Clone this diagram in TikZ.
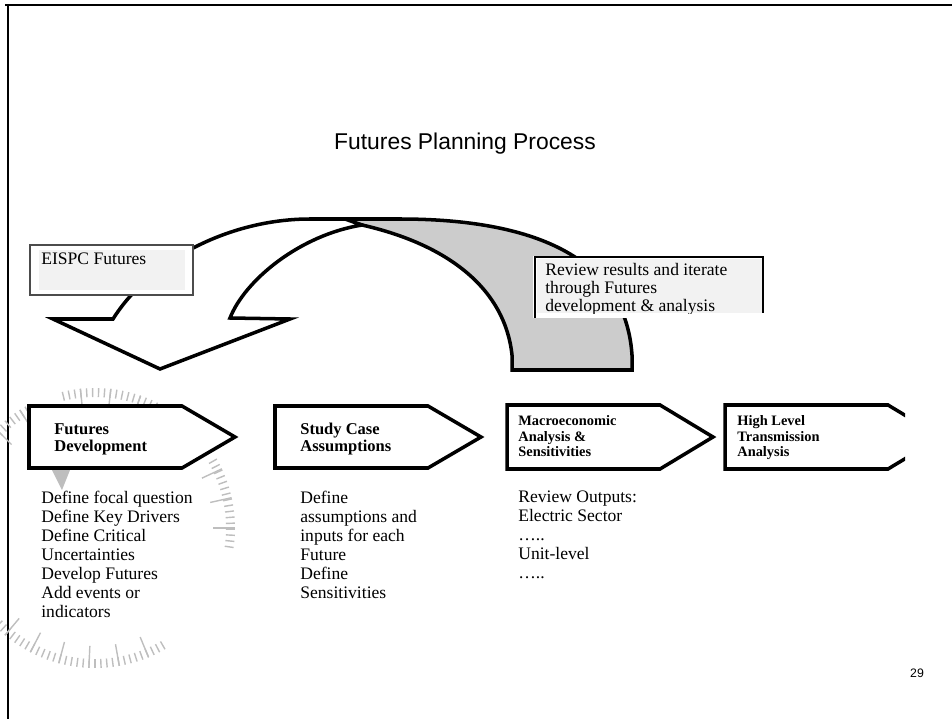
\documentclass[tikz,border=0pt]{standalone}
\usepackage{fontspec}
\setmainfont{Liberation Serif}
\setsansfont{Liberation Sans}
\definecolor{band_gray}{HTML}{CCCCCC}
\definecolor{box_gray}{HTML}{F2F2F2}
\definecolor{dial_gray}{HTML}{BEBEBE}

\begin{document}
\begin{tikzpicture}[x=0.02cm,y=-0.02cm,
        band/.style={draw=black, line width=2pt, line join=miter},
        stage/.style={draw=black, fill=white, line width=2pt},
        stagelabel/.style={anchor=north west, inner sep=0pt, align=left, font=\bfseries\fontsize{9.4}{9.6}\selectfont},
        smalllabel/.style={stagelabel, font=\bfseries\fontsize{8.2}{9}\selectfont},
        stagenote/.style={anchor=north west, inner sep=0pt, align=left, font=\fontsize{10}{10.8}\selectfont},
        dial/.style={draw=dial_gray, line width=0.8pt}]
        \useasboundingbox (0,0) rectangle (952,719);
        % Cadre
        \draw[line width=1.4pt] (5,5) -- (952,5);
        \draw[line width=1.4pt] (8,5) -- (8,719);
        % Titre
        \node (title) at (465,144) {\sffamily\fontsize{13}{15}\selectfont Futures Planning Process};
        % Cadran en filigrane
        \foreach \a in {56,58.5,...,105,-8,-5.5,...,31,120,122.5,...,146,225,227.5,...,300}
            \draw[dial] ({95+140*cos(\a)},{528-140*sin(\a)}) -- ({95+131*cos(\a)},{528-131*sin(\a)});
        \foreach \a in {58.5,71,...,105,0,12.5,25,122.5,135,180,230,242.5,...,300}
            \draw[dial] ({95+140*cos(\a)},{528-140*sin(\a)}) -- ({95+118*cos(\a)},{528-118*sin(\a)});
        \fill[dial_gray] (52,470) -- (70,470) -- (62,490) -- cycle;
        % Fleche grise (retour)
        \filldraw[band, fill=band_gray] (340,219) -- (400,219) .. controls (520,219) and (625,250) .. (632,355)
            -- (632,370) -- (512,370) -- (512,355) .. controls (505,290) and (450,245) .. (362,225) -- cycle;
        % Fleche blanche
        \filldraw[band, fill=white] (113,319) -- (53,319) -- (160,369) -- (290,319) -- (230,318)
            .. controls (245,280) and (300,235) .. (362,225) -- (345,219) -- (310,219)
            .. controls (230,219) and (150,260) .. (113,319) -- cycle;
        % Boite EISPC
        \filldraw[draw=black!70, fill=white, line width=0.6pt] (30,245) rectangle (193,295);
        \fill[box_gray] (39,250) rectangle (185,290);
        \node[anchor=north west, inner sep=0pt, font=\fontsize{10}{12}\selectfont] (eispc) at (41,253) {EISPC Futures};
        % Boite Review
        \fill[white] (533,256) rectangle (765,318);
        \fill[box_gray] (537,259) rectangle (762,313);
        \draw[line width=1.6pt] (535,318) -- (535,257) -- (763,257) -- (763,313);
        \begin{scope}
            \clip (537,259) rectangle (762,313);
            \node[stagenote, font=\fontsize{10}{10.3}\selectfont] (review) at (545,263) {Review results and iterate\\through Futures\\development \& analysis};
        \end{scope}
        % Etapes
        \filldraw[stage] (29,406) -- (182,406) -- (235,437) -- (182,468) -- (29,468) -- cycle;
        \filldraw[stage] (275,406) -- (428,406) -- (481,437) -- (428,468) -- (275,468) -- cycle;
        \filldraw[stage] (507,405) -- (660,405) -- (713,437) -- (660,469) -- (507,469) -- cycle;
        \begin{scope}
            \clip (700,380) rectangle (905,490);
            \filldraw[stage] (725,405) -- (888,405) -- (941,437) -- (888,469) -- (725,469) -- cycle;
        \end{scope}
        \node[stagelabel] (fdlabel) at (54,423) {Futures\\Development};
        \node[stagelabel] (sclabel) at (300,423) {Study Case\\Assumptions};
        \node[smalllabel] (malabel) at (518,415) {Macroeconomic\\Analysis \&\\Sensitivities};
        \node[smalllabel] (tlabel) at (737,415) {High Level\\Transmission\\Analysis};
        % Details
        \node[stagenote] (fdnote) at (41,491) {Define focal question\\Define Key Drivers\\Define Critical\\Uncertainties\\Develop Futures\\Add events or\\indicators};
        \node[stagenote] (scnote) at (300,491) {Define\\assumptions and\\inputs for each\\Future\\Define\\Sensitivities};
        \node[stagenote] (manote) at (518,491) {Review Outputs:\\Electric Sector\\…..\\Unit-level\\…..};
        % Numero de page
        \node[font=\sffamily\fontsize{7}{8}\selectfont] (pagenum) at (917,673) {29};
\end{tikzpicture}
\end{document}
